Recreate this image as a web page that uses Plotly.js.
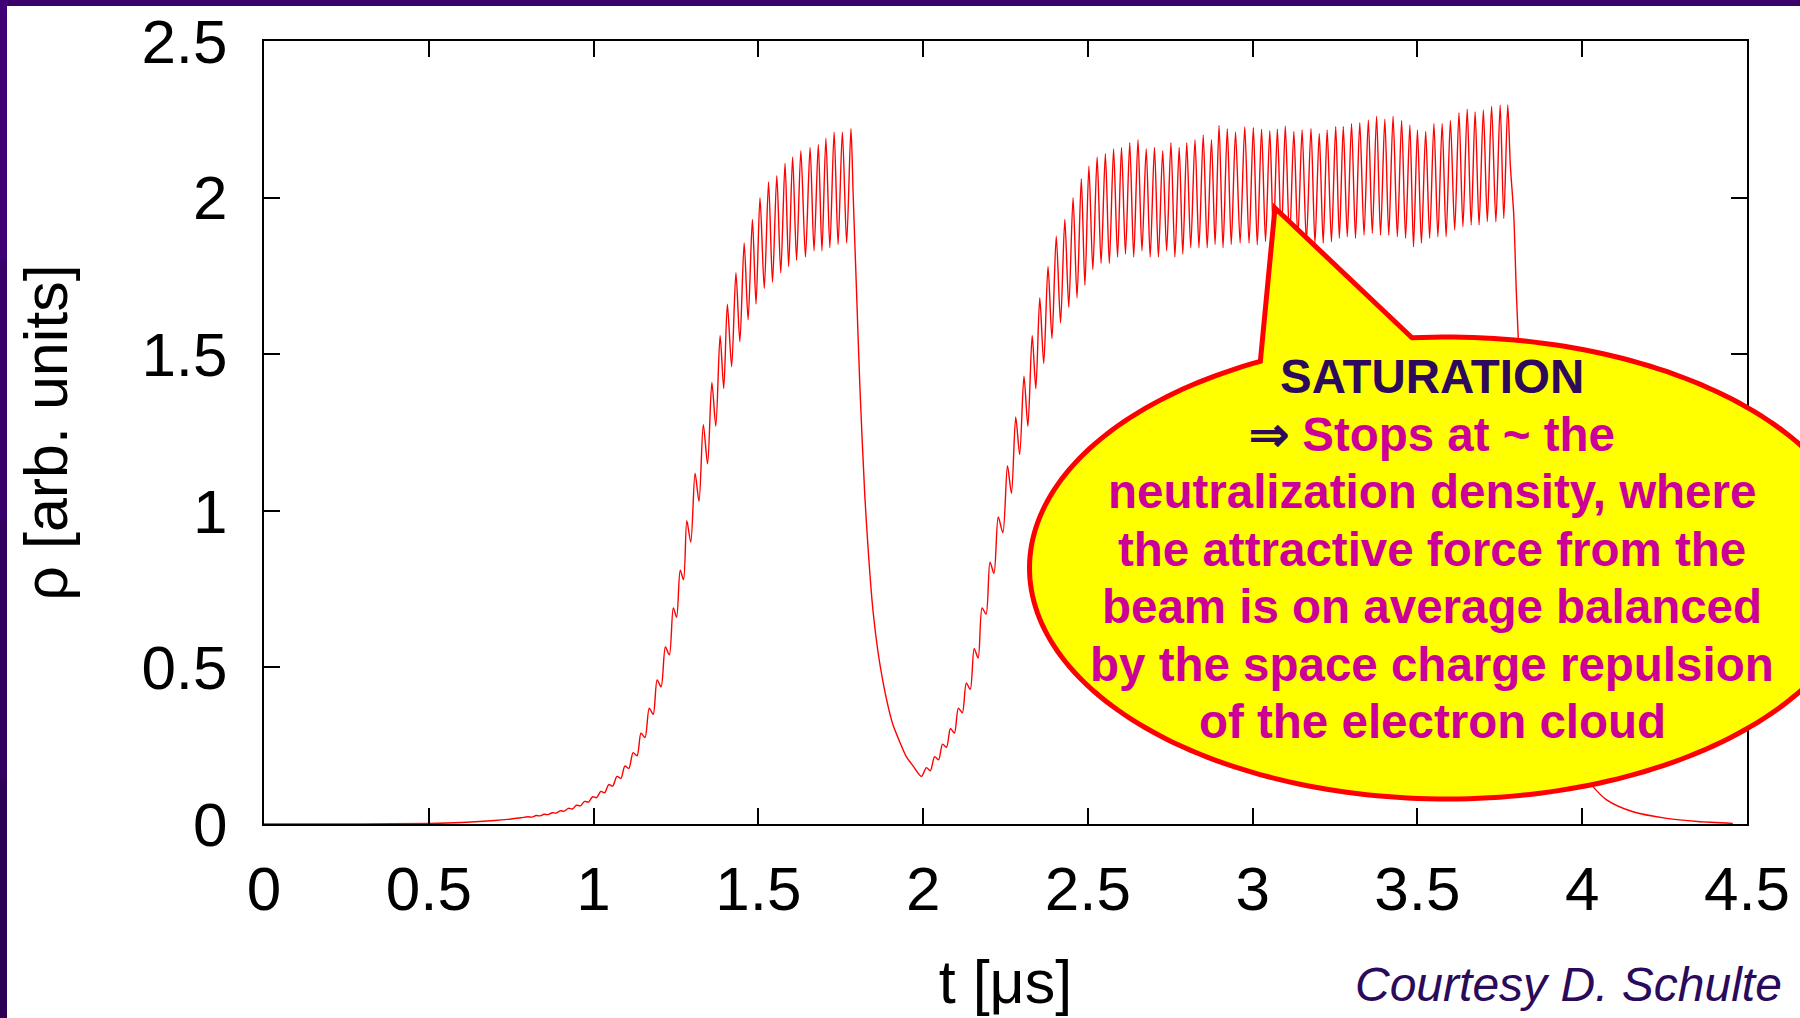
<!DOCTYPE html>
<html>
<head>
<meta charset="utf-8">
<script src="https://cdn.plot.ly/plotly-3.0.1.min.js"></script>
<style>
html, body { margin: 0; padding: 0; background: #ffffff; }
#chart { width: 1800px; height: 1018px; }
</style>
</head>
<body>
<div id="chart"></div>
<script>
// ---------------- tick labels / titles ----------------
const xTickVals = [0, 0.5, 1, 1.5, 2, 2.5, 3, 3.5, 4, 4.5];
const xTickText = ['0', '0.5', '1', '1.5', '2', '2.5', '3', '3.5', '4', '4.5'];
const yTickVals = [0, 0.5, 1, 1.5, 2, 2.5];
const yTickText = ['0', '0.5', '1', '1.5', '2', '2.5'];
const xTitle = 't [μs]';
const yTitle = 'ρ [arb. units]';

// ---------------- data (t in μs, rho in arb. units) ----------------
// slow rise before the first train
const rampT   = [0.000, 0.300, 0.500, 0.600, 0.700, 0.750, 0.780];
const rampRho = [0.000, 0.0005, 0.002, 0.005, 0.011, 0.016, 0.020];

// first bunch train: alternating peak / trough
const train1T = [
  0.801,0.813,0.826,0.838,0.850,0.862,0.875,0.887,0.899,0.911,
  0.924,0.936,0.948,0.960,0.973,0.985,0.997,1.009,1.022,1.034,
  1.046,1.058,1.071,1.083,1.095,1.107,1.120,1.132,1.144,1.156,
  1.169,1.181,1.193,1.205,1.218,1.230,1.242,1.252,1.263,1.273,
  1.283,1.295,1.308,1.320,1.333,1.346,1.359,1.371,1.384,1.395,
  1.406,1.419,1.432,1.444,1.457,1.469,1.482,1.493,1.505,1.518,
  1.531,1.543,1.556,1.568,1.581,1.592,1.604,1.616,1.629,1.643,
  1.657,1.669,1.682,1.693,1.705,1.717,1.730,1.742,1.755,1.768,
  1.781];
const train1Rho = [
  0.023,0.022,0.027,0.026,0.031,0.030,0.036,0.035,0.042,0.041,
  0.050,0.048,0.060,0.058,0.072,0.070,0.087,0.084,0.104,0.100,
  0.126,0.121,0.152,0.146,0.185,0.177,0.228,0.218,0.290,0.276,
  0.370,0.350,0.460,0.438,0.565,0.540,0.690,0.660,0.810,0.780,
  0.968,0.900,1.120,1.030,1.275,1.150,1.410,1.270,1.560,1.390,
  1.660,1.460,1.760,1.540,1.855,1.610,1.930,1.660,2.000,1.710,
  2.050,1.730,2.070,1.760,2.110,1.780,2.130,1.800,2.150,1.810,
  2.160,1.830,2.170,1.830,2.190,1.840,2.210,1.850,2.210,1.855,
  2.220];

// decay in the gap between trains
const gapT   = [1.788,1.798,1.808,1.823,1.835,1.848,1.863,1.879,1.895,1.909,1.930,1.949,1.970,1.995];
const gapRho = [2.000,1.700,1.400,1.050,0.850,0.680,0.550,0.450,0.370,0.315,0.260,0.215,0.185,0.152];

// second bunch train: alternating peak / trough
const train2T = [
  2.010,2.022,2.035,2.047,2.059,2.071,2.083,2.095,2.107,2.119,
  2.131,2.143,2.155,2.167,2.179,2.191,2.203,2.215,2.228,2.242,
  2.256,2.268,2.281,2.293,2.306,2.318,2.331,2.342,2.354,2.366,
  2.379,2.391,2.404,2.417,2.430,2.442,2.455,2.467,2.480,2.491,
  2.503,2.515,2.528,2.540,2.553,2.565,2.578,2.590,2.602,2.614,
  2.627,2.639,2.652,2.664,2.677,2.689,2.702,2.714,2.727,2.739,
  2.752,2.764,2.777,2.788,2.800,2.812,2.825,2.837,2.850,2.862,
  2.875,2.886,2.898,2.910,2.923,2.935,2.948,2.962,2.976,2.989,
  3.002,3.014,3.027,3.039,3.052,3.063,3.075,3.087,3.099,3.112,
  3.125,3.137,3.150,3.163,3.177,3.189,3.202,3.214,3.226,3.239,
  3.252,3.263,3.275,3.287,3.300,3.312,3.325,3.338,3.351,3.363,
  3.376,3.388,3.401,3.413,3.426,3.439,3.452,3.464,3.477,3.488,
  3.500,3.512,3.525,3.537,3.550,3.562,3.575,3.587,3.600,3.613,
  3.626,3.638,3.651,3.663,3.675,3.687,3.700,3.712,3.725,3.738,
  3.751,3.762,3.774];
const train2Rho = [
  0.180,0.170,0.215,0.205,0.255,0.245,0.305,0.290,0.370,0.355,
  0.450,0.430,0.560,0.530,0.690,0.670,0.836,0.800,0.980,0.930,
  1.144,1.056,1.300,1.180,1.430,1.270,1.560,1.390,1.680,1.470,
  1.780,1.550,1.877,1.600,1.930,1.650,2.000,1.680,2.060,1.720,
  2.100,1.770,2.130,1.790,2.140,1.790,2.155,1.810,2.160,1.820,
  2.175,1.810,2.185,1.830,2.155,1.810,2.160,1.810,2.150,1.830,
  2.175,1.810,2.160,1.820,2.175,1.840,2.185,1.840,2.200,1.840,
  2.185,1.850,2.230,1.840,2.220,1.850,2.210,1.855,2.226,1.854,
  2.224,1.849,2.218,1.859,2.214,1.875,2.218,1.870,2.229,1.864,
  2.211,1.870,2.216,1.859,2.221,1.854,2.205,1.854,2.216,1.859,
  2.227,1.870,2.227,1.875,2.237,1.870,2.239,1.880,2.248,1.886,
  2.260,1.880,2.250,1.880,2.260,1.875,2.246,1.870,2.232,1.843,
  2.216,1.854,2.211,1.870,2.237,1.875,2.237,1.875,2.246,1.896,
  2.271,1.907,2.282,1.912,2.274,1.912,2.280,1.923,2.292,1.923,
  2.296,1.933,2.296];

// decay after the second train
const tailT   = [3.782,3.792,3.800,3.806,3.815,3.830,3.850,3.870,3.900,3.930,3.960,4.000,4.028,4.074,4.154,4.256,4.350,4.457];
const tailRho = [2.100,1.950,1.700,1.550,1.350,1.050,0.750,0.550,0.400,0.300,0.230,0.165,0.125,0.077,0.039,0.018,0.008,0.002];

// callout text
const calloutLines = [
  {text: '<b>SATURATION</b>', color: '#2d0a5c'},
  {text: '<b><span style="color:#2d0a5c">⇒</span> Stops at ~ the</b>', color: '#cc0099'},
  {text: '<b>neutralization density, where</b>', color: '#cc0099'},
  {text: '<b>the attractive force from the</b>', color: '#cc0099'},
  {text: '<b>beam is on average balanced</b>', color: '#cc0099'},
  {text: '<b>by the space charge repulsion</b>', color: '#cc0099'},
  {text: '<b>of the electron cloud</b>', color: '#cc0099'}
];
const creditText = '<i>Courtesy D. Schulte</i>';

// ---------------- build trace ----------------
const tAll = [].concat(rampT, train1T, gapT, train2T, tailT);
const rhoAll = [].concat(rampRho, train1Rho, gapRho, train2Rho, tailRho);

// ---------------- geometry helpers (pixel -> paper) ----------------
const W = 1800, H = 1018;
const M = {l: 264, r: 53, t: 41, b: 194};
const PW = W - M.l - M.r, PH = H - M.t - M.b;
const px = x => (x - M.l) / PW;
const py = y => (M.t + PH - y) / PH;

// callout balloon: ellipse + pointer, one closed outline
function balloonPath() {
  const cx = 1447, cy = 568, a = 417.5, b = 231;
  const tip = [1275, 208];
  const baseR = [1412, 338], baseL = [1260, 361];
  const angR = Math.atan2((baseR[1] - cy) / b, (baseR[0] - cx) / a);
  let angL = Math.atan2((baseL[1] - cy) / b, (baseL[0] - cx) / a);
  if (angL < angR) angL += 2 * Math.PI;
  const n = 240;
  let d = '';
  for (let i = 0; i <= n; i++) {
    const ang = angR + (angL - angR) * i / n;
    const X = cx + a * Math.cos(ang), Y = cy + b * Math.sin(ang);
    d += (i === 0 ? 'M' : 'L') + px(X).toFixed(5) + ',' + py(Y).toFixed(5);
  }
  d += 'L' + px(tip[0]).toFixed(5) + ',' + py(tip[1]).toFixed(5) + 'Z';
  return d;
}

const font = 'Liberation Sans, Arial, Helvetica, sans-serif';

const shapes = [
  // purple slide frame (top and left)
  {type: 'rect', xref: 'paper', yref: 'paper', layer: 'above',
   x0: px(0), x1: px(W), y0: py(6), y1: py(0), fillcolor: '#3c006c', line: {width: 0}},
  {type: 'rect', xref: 'paper', yref: 'paper', layer: 'above',
   x0: px(0), x1: px(7), y0: py(260), y1: py(0), fillcolor: '#3f0076', line: {width: 0}},
  {type: 'rect', xref: 'paper', yref: 'paper', layer: 'above',
   x0: px(0), x1: px(7), y0: py(520), y1: py(260), fillcolor: '#390069', line: {width: 0}},
  {type: 'rect', xref: 'paper', yref: 'paper', layer: 'above',
   x0: px(0), x1: px(7), y0: py(780), y1: py(520), fillcolor: '#33005f', line: {width: 0}},
  {type: 'rect', xref: 'paper', yref: 'paper', layer: 'above',
   x0: px(0), x1: px(7), y0: py(H), y1: py(780), fillcolor: '#2d0055', line: {width: 0}},
  // callout balloon
  {type: 'path', xref: 'paper', yref: 'paper', layer: 'above',
   path: balloonPath(), fillcolor: '#ffff00', line: {color: '#ff0000', width: 5}}
];

const lineY = [376.5, 434, 491.5, 549, 606.5, 664, 721.5];
const annotations = calloutLines.map((ln, i) => ({
  xref: 'paper', yref: 'paper', x: px(1432), y: py(lineY[i]),
  xanchor: 'center', yanchor: 'middle', showarrow: false,
  text: ln.text, font: {family: font, size: 47.5, color: ln.color}
}));
annotations.push({
  xref: 'paper', yref: 'paper', x: px(1784), y: py(984),
  xanchor: 'right', yanchor: 'middle', showarrow: false,
  text: creditText, font: {family: font, size: 48, color: '#2a0a5a'}
});

const axisCommon = {
  showgrid: false, zeroline: false, showline: true, linecolor: '#000000', linewidth: 2,
  mirror: 'ticks', ticks: 'inside', ticklen: 16, tickwidth: 2, tickcolor: '#000000',
  tickfont: {family: font, size: 62, color: '#000000'}, tickmode: 'array'
};

const layout = {
  width: W, height: H, margin: M,
  paper_bgcolor: '#ffffff', plot_bgcolor: '#ffffff', showlegend: false,
  xaxis: Object.assign({}, axisCommon, {
    range: [0, 4.5], tickvals: xTickVals, ticktext: xTickText, ticklabelstandoff: 10,
    title: {text: xTitle, font: {family: font, size: 61, color: '#000000'}, standoff: 38}
  }),
  yaxis: Object.assign({}, axisCommon, {
    range: [0, 2.5], tickvals: yTickVals, ticktext: yTickText, ticklabelstandoff: 22,
    title: {text: yTitle, font: {family: font, size: 61, color: '#000000'}, standoff: 54}
  }),
  shapes: shapes,
  annotations: annotations
};

const trace = {
  type: 'scatter', mode: 'lines', x: tAll, y: rhoAll,
  line: {color: '#ff0000', width: 1.4, shape: 'spline', smoothing: 0.8},
  hoverinfo: 'skip'
};

Plotly.newPlot('chart', [trace], layout, {displayModeBar: false, staticPlot: true});
</script>
</body>
</html>
